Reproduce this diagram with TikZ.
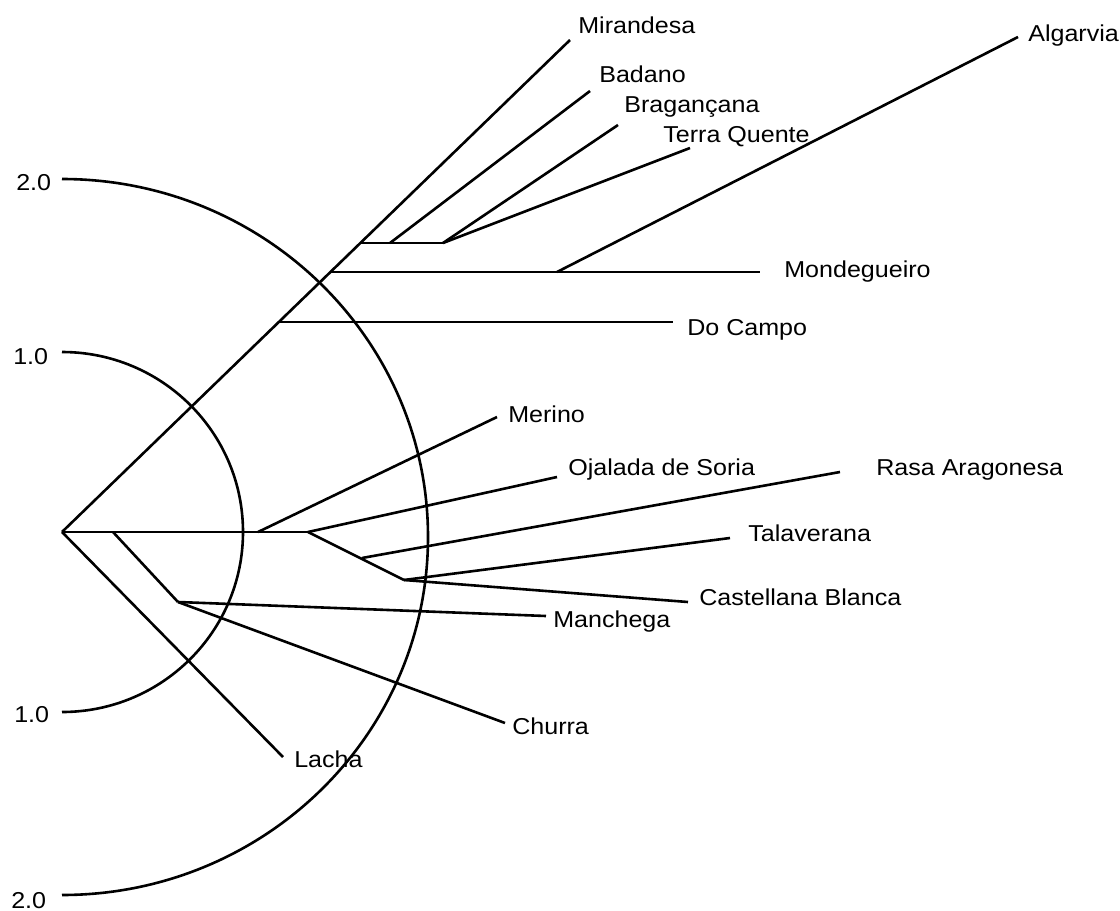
\documentclass[tikz,border=0pt]{standalone}
\usepackage{fontspec}
\setmainfont{Liberation Sans}[FakeStretch=1.09]
\begin{document}
\begin{tikzpicture}[x=1pt,y=-1pt,line width=2.6pt,
  lab/.style={anchor=base west,inner sep=0pt,font=\fontsize{23}{25}\selectfont},
  branch/.style={draw=black,line width=2.6pt},
  scalearc/.style={draw=black,line width=2.6pt}]
\useasboundingbox[fill=white] (0,0) rectangle (1120,911);
% scale arcs
\draw[scalearc] (62,352) arc[start angle=-90,end angle=90,x radius=181,y radius=180];
\draw[scalearc] (62,179) arc[start angle=-90,end angle=90,x radius=366,y radius=358];
\node[lab] (s2a) at (15,190) {2.0};
\node[lab] (s1a) at (12,364) {1.0};
\node[lab] (s1b) at (13,722) {1.0};
\node[lab] (s2b) at (10,908) {2.0};
% junctions and tips
\coordinate (R) at (62,532);
\coordinate (M) at (570,40);
\coordinate (D1) at (279,322);
\coordinate (DC) at (673,322);
\coordinate (D2) at (331,272);
\coordinate (MO) at (760,272);
\coordinate (D3) at (361,243);
\coordinate (J) at (443,243);
\coordinate (B0) at (390,243);
\coordinate (BA) at (590,91);
\coordinate (BR) at (618,125);
\coordinate (TQ) at (690,148);
\coordinate (A0) at (557,272);
\coordinate (AL) at (1018,37);
\coordinate (L1) at (308,532);
\coordinate (ME0) at (258,532);
\coordinate (ME) at (497,417);
\coordinate (OJ) at (557,477);
\coordinate (C) at (404,580);
\coordinate (RA0) at (362,558);
\coordinate (RA) at (840,472);
\coordinate (TA) at (730,538);
\coordinate (CB) at (688,602);
\coordinate (K0) at (113,532);
\coordinate (K) at (178,602);
\coordinate (MA) at (546,616);
\coordinate (CH) at (505,723);
\coordinate (LA) at (283,757);
% branches
\draw[branch] (R) -- (M);
\draw[branch] (D1) -- (DC);
\draw[branch] (D2) -- (MO);
\draw[branch] (D3) -- (J);
\draw[branch] (B0) -- (BA);
\draw[branch] (J) -- (BR);
\draw[branch] (J) -- (TQ);
\draw[branch] (A0) -- (AL);
\draw[branch] (R) -- (L1);
\draw[branch] (ME0) -- (ME);
\draw[branch] (L1) -- (OJ);
\draw[branch] (L1) -- (C);
\draw[branch] (RA0) -- (RA);
\draw[branch] (C) -- (TA);
\draw[branch] (C) -- (CB);
\draw[branch] (K0) -- (K);
\draw[branch] (K) -- (MA);
\draw[branch] (K) -- (CH);
\draw[branch] (R) -- (LA);
% labels
\node[lab] (mirandesa) at (577,33) {Mirandesa};
\node[lab] (badano) at (598,82) {Badano};
\node[lab] (braganca) at (623,112) {Bragançana};
\node[lab] (terra) at (662,142) {Terra Quente};
\node[lab] (algarvia) at (1027,41) {Algarvia};
\node[lab] (mondegueiro) at (783,277) {Mondegueiro};
\node[lab] (docampo) at (686,335) {Do Campo};
\node[lab] (merino) at (507,422) {Merino};
\node[lab] (ojalada) at (567,475) {Ojalada de Soria};
\node[lab] (rasa) at (875,475) {Rasa Aragonesa};
\node[lab] (talaverana) at (747,541) {Talaverana};
\node[lab] (castellana) at (698,605) {Castellana Blanca};
\node[lab] (manchega) at (552,627) {Manchega};
\node[lab] (churra) at (511,734) {Churra};
\node[lab] (lacha) at (293,767) {Lacha};
\end{tikzpicture}
\end{document}
